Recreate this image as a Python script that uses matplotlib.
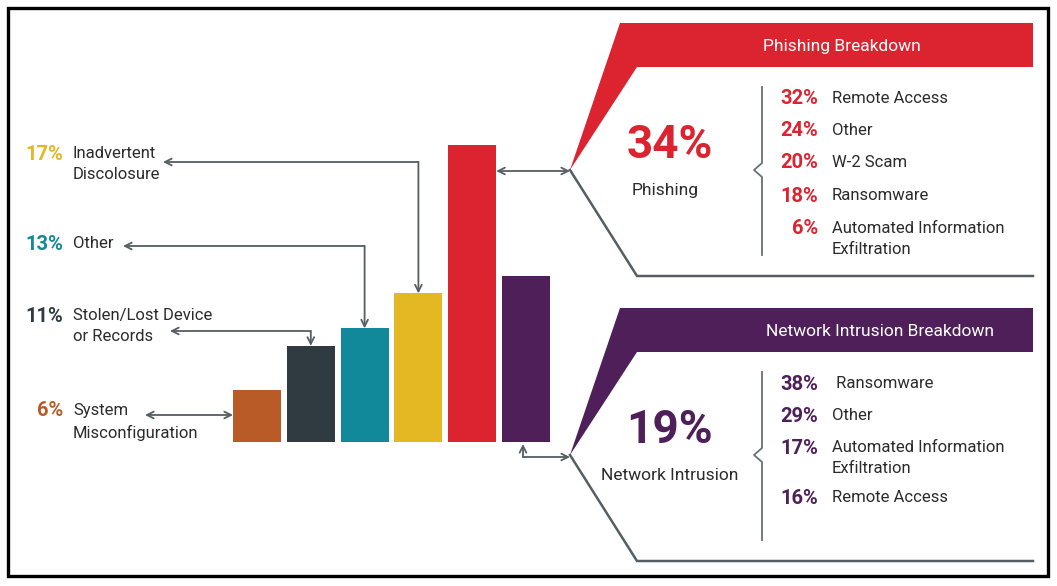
import matplotlib
matplotlib.use("Agg")
import matplotlib.pyplot as plt
from matplotlib.patches import Polygon, Rectangle

plt.rcParams["font.family"] = ["Roboto", "DejaVu Sans"]

# data: overall breach causes (bar order left to right)
causes = ["System\nMisconfiguration", "Stolen/Lost Device\nor Records", "Other",
          "Inadvertent\nDiscolosure", "Phishing", "Network Intrusion"]
shares = [6, 11, 13, 17, 34, 19]
colors = ["#B95B27", "#2F3B40", "#12899A", "#E3B823", "#DC2430", "#4F1F5A"]

phishing_labels = ["Remote Access", "Other", "W-2 Scam", "Ransomware",
                   "Automated Information\nExfiltration"]
phishing_values = [32, 24, 20, 18, 6]

network_labels = [" Ransomware", "Other", "Automated Information\nExfiltration", "Remote Access"]
network_values = [38, 29, 17, 16]

W, H = 1057, 586
fig = plt.figure(figsize=(W / 100, H / 100), dpi=100)

# overlay axes in pixel coordinates (y down)
ax = fig.add_axes([0, 0, 1, 1])
ax.set_xlim(0, W)
ax.set_ylim(H, 0)
ax.axis("off")

# bar axes: baseline at y=442px, 8.74px per percent
ymax = 40
bx0, bx1, base = 220, 560, 442
top = base - ymax * 8.74
axb = fig.add_axes([bx0 / W, (H - base) / H, (bx1 - bx0) / W, (base - top) / H])
step = 53.8
axb.set_xlim((bx0 - 257) / step, (bx1 - 257) / step)
axb.set_ylim(0, ymax)
axb.axis("off")
axb.patch.set_alpha(0)
xs = list(range(len(shares)))
axb.bar(xs, shares, width=48 / step, color=colors)


def px(i, v):
    # bar axes data -> overlay pixel coordinates
    d = axb.transData.transform((i, v))
    return ax.transData.inverted().transform(d)


gray = "#555E62"
arr = dict(arrowstyle="->", color=gray, lw=1.3, shrinkA=0, shrinkB=0, mutation_scale=12)
dbl = dict(arrowstyle="<->", color=gray, lw=1.3, shrinkA=0, shrinkB=0, mutation_scale=12)
dark = "#2B2B2B"
pct_size = 14.5
lsp = 1.52

# left labels
left_rows = [(3, 162, 163), (2, 246, 123), (1, 331, 170)]
for i, ly, lx in left_rows:
    bx, by = px(i, shares[i])
    ax.annotate("", xy=(lx, ly), xytext=(bx, ly), arrowprops=arr)
    ax.annotate("", xy=(bx, by), xytext=(bx, ly), arrowprops=arr)
# system misconfiguration double arrow
bx, by = px(-24 / step, shares[0] / 2)
ax.annotate("", xy=(145, 415), xytext=(bx, 415), arrowprops=dbl)

label_y = {3: 153, 2: 243, 1: 315, 0: 410}
for i, y in label_y.items():
    ax.text(63, y + 1, f"{shares[i]}%", color=colors[i], fontsize=pct_size, fontweight="bold",
            ha="right", va="center")
    ax.text(73, y - 7, causes[i], color=dark, fontsize=12, ha="left", va="top",
            linespacing=lsp)

# callout panels
panels = [
    dict(top=23, idx=4, title="Phishing Breakdown", title_x=842, name="Phishing", name_x=665,
         labels=phishing_labels, values=phishing_values,
         rows=[98, 130, 162, 195, 228]),
    dict(top=308, idx=5, title="Network Intrusion Breakdown", title_x=880,
         name="Network Intrusion", name_x=670,
         labels=network_labels, values=network_values,
         rows=[383, 415, 447, 497]),
]
for p in panels:
    t = p["top"]
    c = colors[p["idx"]]
    tipx, tipy = 570, t + 147
    ax.add_patch(Polygon([(620, t), (1033, t), (1033, t + 44), (637, t + 44), (tipx, tipy)],
                         closed=True, color=c, lw=0))
    ax.plot([tipx, 637, 1033], [tipy, t + 253, t + 253], color=gray, lw=1.8,
            solid_joinstyle="miter")
    ax.text(p["title_x"], t + 23, p["title"], color="white",
            fontsize=12.5, ha="center", va="center")
    # bracket
    ax.plot([762, 762, 754, 762, 762], [t + 64, tipy - 7, tipy, tipy + 7, t + 232],
            color="#6A7074", lw=1.3)
    ax.text(670, t + 122, f"{shares[p['idx']]}%", color=c,
            fontsize=33, fontweight="bold", ha="center", va="center")
    ax.text(p["name_x"], t + 167, p["name"], color=dark,
            fontsize=12.5, ha="center", va="center")
    for lab, val, y in zip(p["labels"], p["values"], p["rows"]):
        ax.text(818, y + 1, f"{val}%", color=c, fontsize=pct_size, fontweight="bold",
                ha="right", va="center")
        ax.text(832, y - 7, lab, color=dark, fontsize=12, ha="left", va="top",
                linespacing=lsp)

# connectors from bars to panels
bx, by = px(4 + 24 / step, 34 - 3)
ax.annotate("", xy=(bx, 171), xytext=(570, 171), arrowprops=dbl)
bx, by = px(5 - 3 / step, 0)
ax.annotate("", xy=(bx, by + 2), xytext=(bx, 457), arrowprops=arr)
ax.annotate("", xy=(570, 457), xytext=(bx, 457), arrowprops=arr)

# outer frame
ax.add_patch(Rectangle((8, 8), 1040, 568, fill=False, ec="black", lw=2.4))

fig.savefig("out.png", dpi=100)
